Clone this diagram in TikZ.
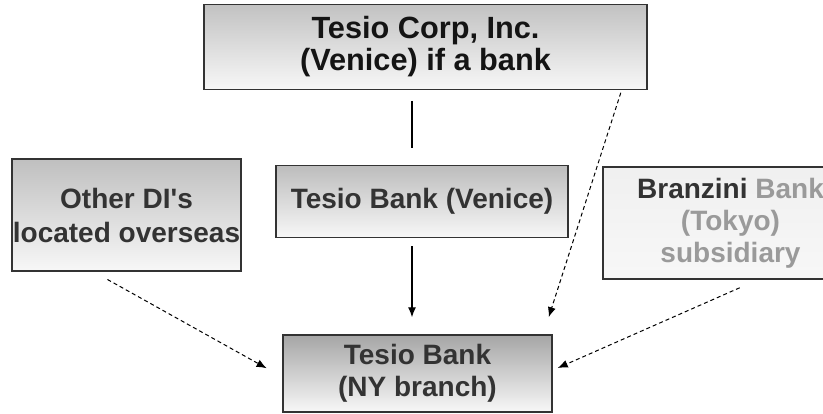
\documentclass[tikz,border=0pt]{standalone}
\usepackage{fontspec}
\setmainfont{Liberation Sans}
\usetikzlibrary{positioning,arrows.meta}

\definecolor{boxline}{HTML}{333333}
\definecolor{textgrey}{HTML}{333333}
\definecolor{palegrey}{HTML}{9A9A9A}

\tikzset{
  entity/.style={draw=boxline, line width=1.4pt, top color=#1, bottom color=white!97!black,
    inner sep=0pt, align=center, text=textgrey,
    font=\bfseries\fontsize{28}{32}\selectfont},
  entity/.default=black!26,
  link/.style={line width=1.3pt},
  owns/.style={link, -{Latex[length=10pt,width=8pt]}},
  ctrl/.style={owns, line width=1pt, dash pattern=on 4pt off 3pt},
}

\begin{document}
\begin{tikzpicture}[x=1pt, y=-1pt]
  \useasboundingbox (0,0) rectangle (823,413);

  % Branch at the bottom
  \node[entity=black!35, minimum width=269pt, minimum height=77pt] (ny) at (417.5,373.5) {Tesio Bank\\(NY branch)};

  % Parent bank and holding company
  \node[entity, minimum width=292pt, minimum height=72pt, above=96pt of ny, xshift=4.5pt] (venice) {Tesio Bank (Venice)};
  \node[entity=black!24, minimum width=443pt, minimum height=85pt, above=75pt of venice, xshift=3.5pt,
        text=black!92, font=\bfseries\fontsize{30.7}{32}\selectfont] (corp) {Tesio Corp, Inc.\\(Venice) if a bank};

  % Other lenders
  \node[entity=black!25, minimum width=229pt, minimum height=112pt,
        font=\bfseries\fontsize{28}{34}\selectfont] (other) at (126.5,215)
       {Other DI\textquotesingle s\\located overseas};
  \node[entity=black!6, minimum width=255pt, minimum height=112pt, text=palegrey] (branzini) at (730.5,223)
       {{\color{textgrey}Branzini} Bank\\(Tokyo)\\subsidiary};

  % Links
  \draw[link, shorten <=11pt, shorten >=17pt] ([xshift=-13.5pt]corp.south) -- ([xshift=-10pt]venice.north);
  \draw[owns, shorten <=8pt, shorten >=17pt] ([xshift=-10pt]venice.south) -- ([xshift=-5.5pt]ny.north);
  \draw[ctrl, shorten <=3pt, shorten >=18pt] ([xshift=-26pt]corp.south east) -- ([xshift=-9.5pt]ny.north east);
  \draw[ctrl, shorten <=16pt, shorten >=18pt] ([xshift=-33pt]other.south) -- ([yshift=-3.5pt]ny.west);
  \draw[ctrl, shorten <=20pt, shorten >=5.5pt] ([xshift=27.5pt]branzini.south) -- ([yshift=3.3pt]ny.east);

\end{tikzpicture}
\end{document}
